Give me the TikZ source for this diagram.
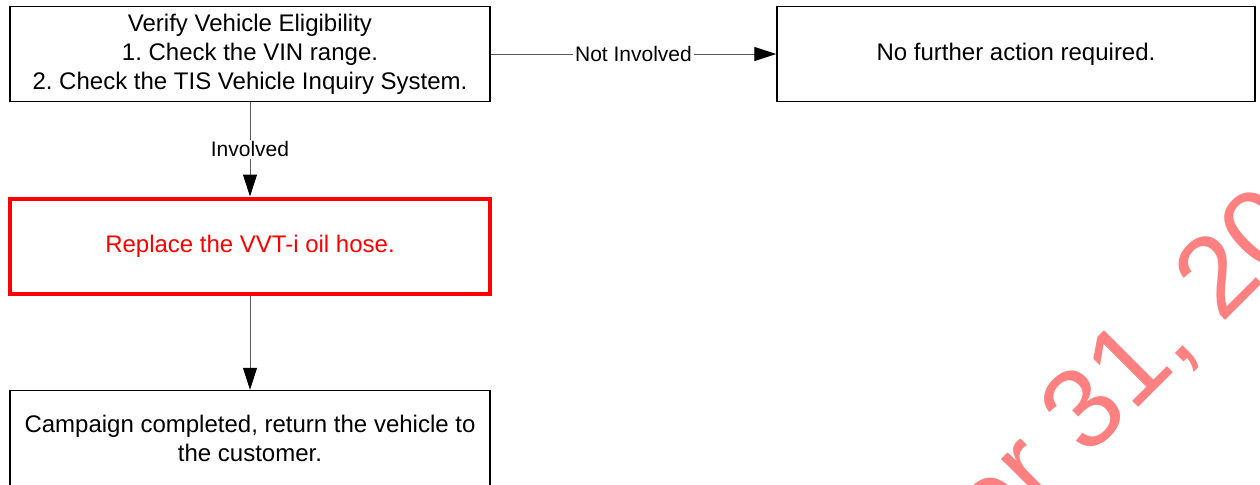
\documentclass[tikz,border=0pt]{standalone}
\usepackage{fontspec}
\setmainfont{Liberation Sans}
\usetikzlibrary{positioning,calc}
\usetikzlibrary{arrows.meta}

\definecolor{wmpink}{HTML}{FF8080}
\frenchspacing

\begin{document}
\begin{tikzpicture}[x=0.5pt, y=-0.5pt, >={Triangle[length=11pt, width=7pt, color=black]}]

    \tikzset{
        stepbox/.style={draw, line width=0.7pt, minimum width=240pt, minimum height=47.5pt,
            align=center, inner sep=0pt, font=\fontsize{12}{14.5}\selectfont},
        redbox/.style={stepbox, draw=red, line width=2pt, text=red},
        link/.style={draw=black!65, line width=0.5pt},
        tag/.style={fill=white, inner sep=1pt, font=\fontsize{10.5}{12}\selectfont}
    }

    \useasboundingbox (0, 0) rectangle (1260, 484);
    \clip (0, 0) rectangle (1260, 484);

    % watermark
    \node (stamp) [rotate = 45, anchor = base west, inner sep = 0pt, text = wmpink,
        font = \fontsize{57}{57}\selectfont] at (993, 553) {er 31, 20};

    \node (verify) [stepbox] at (250, 54) {Verify Vehicle Eligibility\\1. Check the VIN range.\\2. Check the TIS Vehicle Inquiry System.};
    \node (nofurther) [stepbox, minimum width = 239pt] at (1016, 54) {No further action required.};
    \node (replace) [redbox] at (250, 246) {Replace the VVT-i oil hose.};
    \node (done) [stepbox] at (250, 438) {Campaign completed, return the vehicle to\\the customer.};

    \draw [link, ->] (verify) -- node [tag] {Not Involved} (nofurther);
    \draw [link, ->] (verify) -- node [tag] {Involved} (replace);
    \draw [link, ->] (replace) -- (done);

\end{tikzpicture}
\end{document}
